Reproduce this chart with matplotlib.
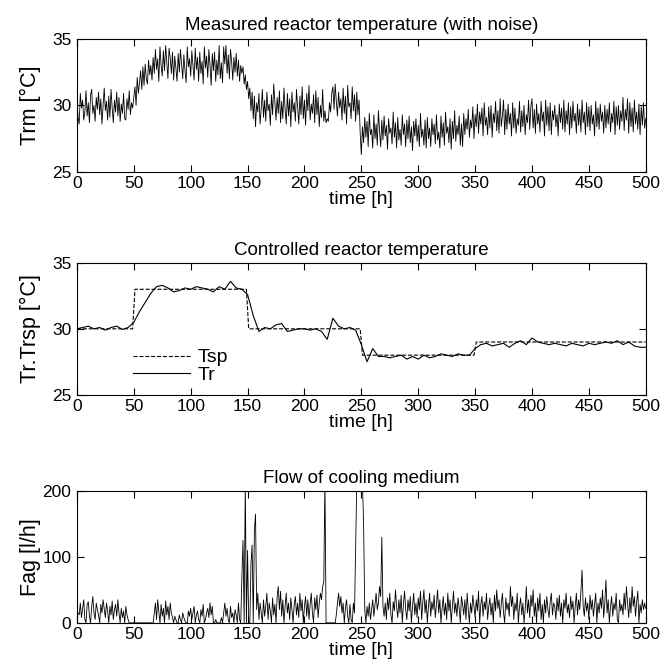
import numpy as np
import matplotlib.pyplot as plt

plt.rcParams['font.family'] = ['Liberation Sans', 'DejaVu Sans']

# measured reactor temperature (with noise), one value per hour
t_trm = np.arange(0, 501, 1)
trm = [
    30.6, 29.1, 28.6, 30.9, 29.8, 30.4, 28.9, 29.5, 31.1, 29.2,
    30.2, 28.7, 30.8, 31.2, 29.4, 30.0, 28.8, 30.6, 29.7, 31.0,
    29.3, 30.5, 28.6, 29.9, 31.3, 29.6, 30.3, 28.9, 30.7, 29.1,
    31.2, 29.8, 28.7, 30.4, 29.5, 31.0, 29.2, 30.6, 28.8, 30.1,
    29.4, 30.9, 29.0, 28.9, 30.5, 29.7, 31.1, 29.3, 30.2, 29.8,
    30.6, 31.4, 30.0, 32.1, 30.9, 31.7, 32.6, 31.2, 32.9, 31.5,
    33.1, 32.0, 31.6, 33.4, 32.3, 33.0, 31.9, 33.6, 32.4, 34.2,
    32.7, 33.5, 31.8, 34.4, 33.0, 32.2, 34.1, 32.6, 34.5, 33.2,
    32.0, 34.3, 33.6, 32.4, 34.0, 31.9, 33.7, 32.8, 31.8, 33.9,
    32.5, 34.2, 33.1, 32.0, 33.8, 32.6, 31.7, 34.4, 32.9, 33.5,
    32.2, 34.1, 33.0, 31.9, 34.3, 32.7, 33.6, 31.8, 34.0, 32.4,
    33.3, 31.6, 34.4, 32.8, 33.7, 32.1, 34.2, 33.0, 31.5, 33.9,
    32.6, 34.0, 31.8, 33.4, 32.3, 34.5, 32.0, 33.2, 31.7, 34.4,
    33.1, 34.5, 32.4, 33.8, 32.0, 34.2, 33.3, 31.9, 33.6, 32.5,
    33.9, 32.2, 33.4, 31.8, 33.0, 32.4, 32.9, 31.6, 32.3, 31.2,
    31.8, 30.5, 31.3, 29.6, 31.0, 29.0, 30.7, 28.4, 30.2, 29.5,
    30.9, 28.6, 29.8, 31.2, 29.1, 30.4, 28.8, 31.0, 29.6, 30.1,
    28.5, 30.8, 29.3, 31.6, 30.2, 28.9, 30.6, 29.4, 31.1, 28.7,
    30.3, 29.0, 31.3, 29.7, 28.6, 30.9, 29.2, 30.5, 28.4, 31.0,
    29.5, 30.2, 28.8, 31.2, 29.9, 28.6, 30.7, 29.3, 31.4, 29.0,
    30.4, 28.5, 30.9, 29.6, 31.5, 28.9, 30.1, 29.4, 30.8, 28.7,
    31.1, 29.3, 30.6, 28.4, 30.0, 29.1, 31.2, 28.8, 29.6, 28.7,
    29.0, 28.8, 30.2, 29.5, 30.9, 31.4, 29.7, 31.6, 30.3, 29.2,
    31.0, 29.8, 30.5, 28.9, 31.3, 29.4, 30.7, 28.6, 31.5, 29.9,
    30.2, 29.0, 31.4, 29.6, 30.8, 28.8, 31.0, 29.3, 30.4, 27.9,
    26.3, 28.4, 27.2, 29.1, 27.6, 28.8, 26.9, 29.4, 27.8, 28.2,
    26.8, 29.3, 27.5, 28.6, 27.0, 29.6, 28.1, 26.9, 28.9, 27.4,
    29.2, 27.7, 28.5, 26.7, 29.0, 27.9, 28.3, 27.1, 29.5, 27.6,
    28.7, 26.8, 29.1, 27.4, 28.2, 27.0, 29.3, 27.8, 28.6, 26.9,
    28.9, 27.5, 29.2, 27.2, 28.4, 26.6, 28.8, 27.7, 29.0, 27.3,
    28.5, 26.9, 29.4, 27.6, 28.2, 27.0, 28.9, 26.8, 29.1, 27.5,
    28.3, 26.9, 29.0, 27.8, 28.6, 27.1, 29.3, 27.4, 28.0, 26.8,
    29.2, 27.6, 28.7, 27.0, 29.5, 27.9, 28.4, 27.2, 29.0, 26.7,
    28.8, 27.5, 29.6, 27.3, 28.5, 27.8, 29.2, 27.0, 28.6, 26.9,
    29.4, 27.8, 29.0, 28.2, 29.7, 27.6, 28.9, 28.3, 29.9, 27.5,
    29.3, 28.4, 30.1, 27.9, 29.5, 28.6, 29.8, 27.7, 30.2, 28.5,
    29.1, 27.8, 29.9, 28.3, 30.0, 27.6, 29.4, 28.7, 30.3, 28.1,
    29.6, 27.9, 30.5, 28.4, 29.2, 30.4, 27.8, 29.7, 28.2, 30.1,
    28.6, 29.4, 27.7, 30.2, 28.3, 29.8, 27.9, 29.0, 28.5, 30.3,
    28.0, 29.6, 28.4, 30.0, 27.8, 29.3, 28.7, 30.4, 28.2, 29.9,
    30.5, 28.3, 29.7, 27.9, 30.1, 28.6, 29.4, 28.0, 30.3, 28.8,
    29.5, 27.7, 30.4, 28.5, 29.9, 28.1, 30.2, 27.8, 29.6, 28.9,
    30.0, 28.4, 29.3, 27.7, 30.1, 28.7, 29.8, 28.2, 30.4, 28.0,
    29.6, 28.6, 30.2, 27.8, 29.9, 28.3, 30.3, 28.8, 29.4, 27.9,
    30.1, 28.5, 29.7, 28.0, 30.4, 28.7, 29.5, 27.8, 30.2, 28.4,
    29.9, 28.1, 30.0, 28.6, 29.3, 27.7, 30.3, 28.4, 29.8, 28.2,
    30.1, 28.8, 29.5, 27.9, 30.0, 28.3, 29.7, 28.6, 30.2, 28.0,
    29.4, 28.7, 30.3, 27.8, 29.9, 28.5, 30.0, 28.2, 29.6, 28.8,
    30.6, 28.1, 29.7, 28.9, 30.5, 27.9, 30.2, 28.4, 29.8, 28.0,
    30.4, 28.6, 29.5, 28.2, 30.1, 27.8, 29.9, 28.5, 30.2, 28.3,
    29.0,
]

# controlled reactor temperature, one value every 5 h
t_tr = np.arange(0, 501, 5)
tr = [
    30.0, 30.1, 30.2, 30.0, 30.1, 29.9, 30.1, 30.2, 29.95, 30.1,
    30.5, 31.3, 32.0, 32.7, 33.2, 33.3, 33.1, 32.8, 32.9, 33.1,
    33.0, 33.2, 33.1, 33.0, 32.8, 33.2, 33.0, 33.6, 33.1, 33.0,
    32.6, 31.0, 29.8, 30.1, 30.0, 30.3, 30.4, 29.8, 29.9, 30.0,
    30.0, 29.9, 30.0, 29.8, 29.2, 30.8, 30.2, 30.0, 30.1, 29.9,
    28.8, 27.5, 28.5, 27.9, 27.9, 27.8, 27.9, 28.0, 27.7, 27.9,
    27.7, 28.0, 27.8, 27.9, 28.1, 28.0, 27.9, 28.1, 28.0, 28.0,
    28.5, 28.8, 28.9, 28.7, 28.8, 28.9, 28.6, 28.9, 29.1, 28.8,
    29.3, 29.0, 28.9, 28.8, 28.9, 28.8, 28.7, 28.9, 28.8, 28.7,
    28.9, 28.8, 28.9, 29.0, 28.9, 29.1, 28.8, 29.0, 28.7, 28.6,
    28.6,
]

# setpoint
t_sp = [0, 49, 51, 149, 151, 249, 251, 349, 351, 500]
tsp = [30, 30, 33, 33, 30, 30, 28, 28, 29, 29]

# flow of cooling medium, one value per hour
t_fag = np.arange(0, 501, 1)
fag = [
    18, 15, 12, 30, 8, 22, 35, 5, 0, 28,
    32, 10, 0, 25, 40, 15, 5, 30, 20, 12,
    0, 28, 15, 35, 22, 8, 30, 18, 0, 25,
    12, 33, 5, 20, 28, 10, 35, 15, 0, 22,
    8, 18, 0, 25, 12, 5, 0, 0, 0, 0,
    0, 0, 0, 0, 0, 0, 0, 0, 0, 0,
    0, 0, 0, 0, 0, 0, 0, 0, 15, 30,
    5, 35, 18, 0, 28, 10, 22, 0, 33, 12,
    25, 5, 30, 15, 8, 0, 10, 5, 0, 0,
    12, 5, 0, 15, 8, 3, 0, 0, 18, 10,
    22, 5, 15, 25, 0, 12, 18, 5, 0, 20,
    10, 28, 0, 5, 15, 22, 8, 30, 12, 25,
    0, 0, 5, 0, 0, 0, 0, 8, 0, 15,
    30, 10, 22, 5, 0, 25, 8, 15, 0, 20,
    12, 0, 30, 5, 0, 70, 125, 0, 215, 0,
    110, 0, 0, 90, 118, 0, 140, 165, 20, 45,
    5, 30, 15, 0, 35, 10, 25, 45, 5, 30,
    18, 0, 38, 12, 28, 0, 40, 55, 20, 48,
    10, 35, 0, 25, 45, 15, 30, 5, 38, 20,
    0, 28, 40, 12, 30, 8, 45, 18, 35, 0,
    25, 40, 10, 35, 5, 28, 45, 15, 0, 38,
    20, 42, 8, 30, 45, 35, 55, 62, 220, 0,
    0, 0, 0, 0, 0, 0, 0, 0, 12, 30,
    45, 25, 40, 15, 30, 0, 22, 35, 10, 0,
    28, 5, 0, 30, 15, 120, 215, 230, 200, 220,
    225, 210, 150, 20, 0, 25, 10, 30, 5, 20,
    35, 10, 28, 45, 20, 30, 55, 40, 130, 25,
    10, 30, 5, 38, 20, 45, 12, 0, 32, 18,
    50, 25, 8, 35, 15, 42, 0, 28, 48, 20,
    5, 35, 18, 40, 0, 25, 45, 12, 30, 8,
    38, 20, 48, 5, 30, 50, 15, 35, 0, 25,
    45, 10, 32, 20, 42, 8, 28, 50, 15, 35,
    0, 22, 40, 12, 30, 5, 45, 18, 35, 0,
    25, 48, 15, 30, 10, 38, 22, 0, 40, 28,
    12, 35, 5, 45, 20, 0, 30, 15, 42, 25,
    8, 35, 18, 48, 0, 28, 40, 10, 32, 20,
    45, 5, 25, 38, 12, 30, 0, 42, 18, 50,
    22, 35, 8, 28, 45, 15, 0, 38, 20, 30,
    10, 55, 25, 40, 5, 30, 18, 45, 0, 25,
    38, 12, 30, 0, 20, 55, 15, 35, 8, 42,
    25, 50, 10, 30, 0, 38, 18, 45, 5, 28,
    0, 35, 15, 40, 20, 8, 32, 45, 12, 30,
    25, 5, 38, 18, 42, 10, 30, 0, 35, 22,
    45, 15, 28, 8, 40, 20, 33, 0, 25, 45,
    12, 35, 20, 48, 80, 25, 10, 38, 18, 30,
    5, 42, 20, 35, 10, 28, 45, 0, 30, 15,
    38, 22, 50, 8, 30, 65, 15, 35, 0, 25,
    40, 10, 30, 20, 45, 5, 0, 35, 18, 28,
    12, 45, 20, 55, 30, 8, 38, 15, 55, 25,
    40, 10, 32, 48, 0, 28, 15, 35, 20, 30,
    22,
]

fig = plt.figure(figsize=(6.63, 6.69), dpi=100)
ax1 = fig.add_axes([0.116, 0.743, 0.858, 0.199])
ax2 = fig.add_axes([0.116, 0.410, 0.858, 0.197])
ax3 = fig.add_axes([0.116, 0.069, 0.858, 0.197])

ax1.plot(t_trm, trm, color='black', lw=0.6)
ax1.set_ylim(25, 35)
ax1.set_yticks([25, 30, 35])
ax1.set_ylabel('Trm [°C]', fontsize=15.5)
ax1.set_title('Measured reactor temperature (with noise)', fontsize=13.5, pad=6)

ax2.plot(t_sp, tsp, 'k--', lw=0.8, label='Tsp')
ax2.plot(t_tr, tr, 'k-', lw=0.8, label='Tr')
ax2.set_ylim(25, 35)
ax2.set_yticks([25, 30, 35])
ax2.set_ylabel('Tr.Trsp [°C]', fontsize=15.5)
ax2.set_title('Controlled reactor temperature', fontsize=13.5, pad=6)
ax2.legend(loc='center left', bbox_to_anchor=(0.099, 0.215), frameon=False,
           fontsize=14, handlelength=2.9, handletextpad=0.4, labelspacing=0.0,
           borderpad=0, borderaxespad=0)

ax3.plot(t_fag, fag, color='black', lw=0.6)
ax3.set_ylim(0, 200)
ax3.set_yticks([0, 100, 200])
ax3.set_ylabel('Fag [l/h]', fontsize=15.5)
ax3.set_title('Flow of cooling medium', fontsize=13.5, pad=6)

for ax in (ax1, ax2, ax3):
    ax.set_xlim(0, 500)
    ax.set_xticks(np.arange(0, 501, 50))
    ax.set_xlabel('time [h]', fontsize=14, labelpad=0)
    ax.tick_params(direction='in', top=True, right=True, labelsize=12.5, length=5)
    ax.tick_params(axis='x', pad=3)
    ax.tick_params(axis='y', pad=4)
    ax.yaxis.set_label_coords(-0.063, 0.5)
    for s in ax.spines.values():
        s.set_linewidth(0.8)

fig.savefig('out.png', dpi=100)
